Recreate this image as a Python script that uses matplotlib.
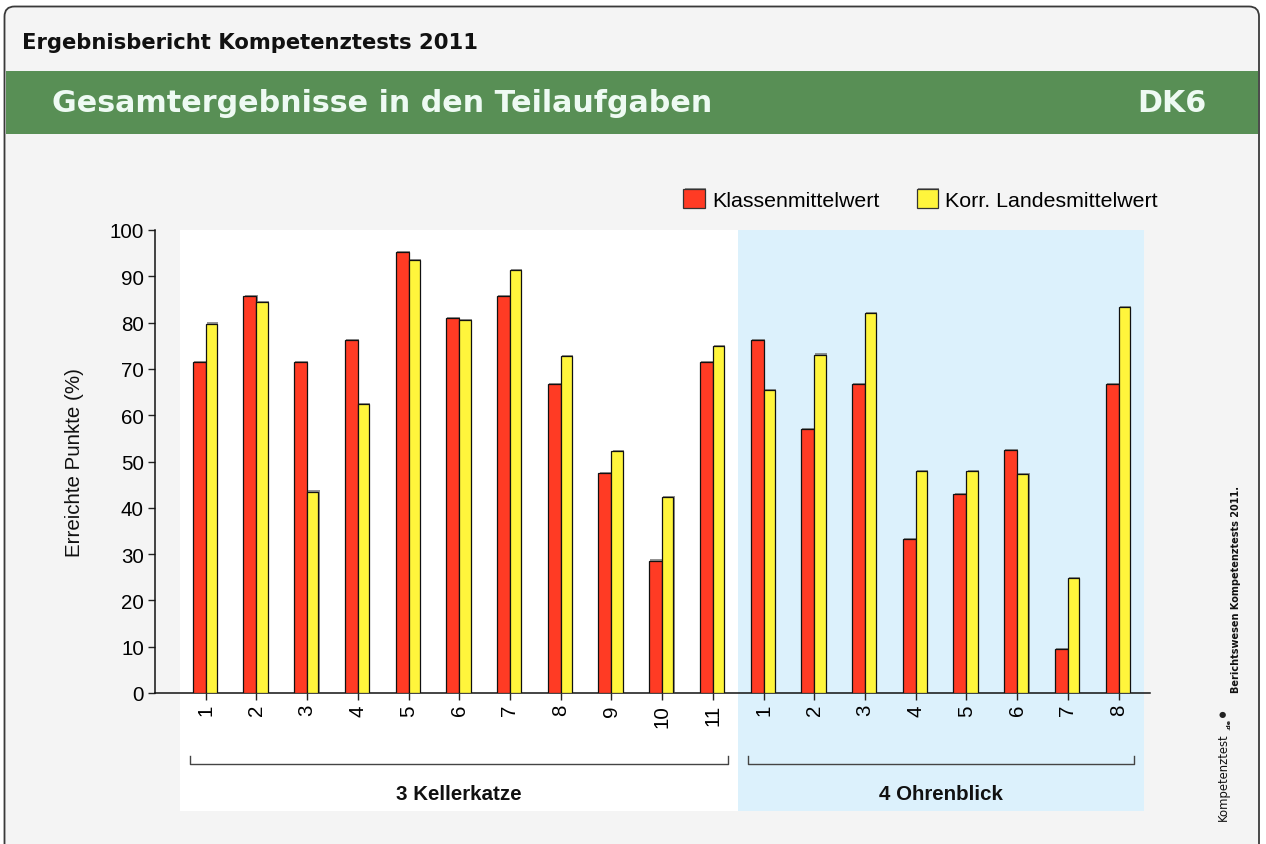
import matplotlib
matplotlib.use("Agg")
import matplotlib.pyplot as plt
import matplotlib.patches as mpatches
import matplotlib.transforms as mtrans
import matplotlib.patheffects as pe
import numpy as np

# ---------------- data ----------------
groups = ["3 Kellerkatze", "4 Ohrenblick"]
tasks_k = ["1", "2", "3", "4", "5", "6", "7", "8", "9", "10", "11"]
tasks_o = ["1", "2", "3", "4", "5", "6", "7", "8"]
klassen_k = [71.4, 85.7, 71.4, 76.2, 95.2, 81.0, 85.7, 66.7, 47.6, 28.6, 71.4]
landes_k = [79.8, 84.5, 43.5, 62.4, 93.6, 80.6, 91.4, 72.8, 52.3, 42.4, 75.0]
klassen_o = [76.2, 57.1, 66.7, 33.3, 42.9, 52.4, 9.5, 66.7]
landes_o = [65.5, 73.1, 82.1, 48.0, 48.0, 47.2, 24.8, 83.3]
series_names = ["Klassenmittelwert", "Korr. Landesmittelwert"]
yticks = [0, 10, 20, 30, 40, 50, 60, 70, 80, 90, 100]

W, H = 1266, 845
fig = plt.figure(figsize=(W / 100, H / 100), dpi=100)
fig.patch.set_facecolor("white")

def fx(x):
    return x / W

def fy(y):
    return 1 - y / H

FS = 14.8

# outer rounded box (pixel coords)
box = mpatches.FancyBboxPatch((4.5, -20), 1254.5, H - 7.5 + 20,
                              boxstyle="round,pad=0,rounding_size=10",
                              transform=mtrans.IdentityTransform(),
                              facecolor="#f4f4f4", edgecolor="#3a3a3a",
                              linewidth=1.3, zorder=-10)
fig.patches.append(box)

# green band
band = mpatches.Rectangle((fx(5.5), fy(135)), fx(1258) - fx(5.5), fy(72) - fy(135),
                          transform=fig.transFigure, facecolor="#588f55",
                          edgecolor="none", zorder=-9)
fig.patches.append(band)

fig.text(fx(22), fy(43), "Ergebnisbericht Kompetenztests 2011", fontsize=15.2,
         fontweight="bold", family="DejaVu Sans", ha="left", va="center", color="#111111")
fig.text(fx(52), fy(104), "Gesamtergebnisse in den Teilaufgaben", fontsize=21.7,
         fontweight="bold", family="DejaVu Sans", ha="left", va="center", color="#eefaf3")
fig.text(fx(1207), fy(104), "DK6", fontsize=21.7, fontweight="bold", family="DejaVu Sans",
         ha="right", va="center", color="#eefaf3")

# ---------------- axes ----------------
ax = fig.add_axes([fx(155), fy(694), fx(1150) - fx(155), fy(231) - fy(694)])
ax.set_facecolor("none")

n_k, n_o = len(tasks_k), len(tasks_o)
x = np.arange(n_k + n_o)
klassen = klassen_k + klassen_o
landes = landes_k + landes_o
labels = tasks_k + tasks_o

ax.set_xlim(-1.0, 18.62)
ax.set_ylim(0, 100)

# background regions (extend below the axes)
btr = mtrans.blended_transform_factory(ax.transData, fig.transFigure)
fig.patches.append(mpatches.Rectangle((-0.5, fy(812)), n_k, fy(231) - fy(812),
                                      transform=btr, facecolor="white",
                                      edgecolor="none", zorder=-5))
fig.patches.append(mpatches.Rectangle((n_k - 0.5, fy(812)), n_o, fy(231) - fy(812),
                                      transform=btr, facecolor="#dcf1fc",
                                      edgecolor="none", zorder=-5))

shadow = [pe.SimplePatchShadow(offset=(0.8, 0.8), shadow_rgbFace="#666666", alpha=0.7),
          pe.Normal()]
w_red, w_yel = 0.256, 0.223
ax.bar(x - w_red / 2, klassen, width=w_red, color="#ff3b24", edgecolor="#111111",
       linewidth=0.9, label=series_names[0], zorder=3, path_effects=shadow)
ax.bar(x + w_yel / 2, landes, width=w_yel, color="#fff53c", edgecolor="#111111",
       linewidth=0.9, label=series_names[1], zorder=3, path_effects=shadow)

ax.set_xticks(x)
ax.set_xticklabels(labels, rotation=90, family="Liberation Sans", fontsize=FS)
ax.set_yticks(yticks)
ax.set_yticklabels([str(t) for t in yticks], family="Liberation Sans", fontsize=FS)
ax.tick_params(axis="both", direction="out", length=5, width=1, color="#222222", pad=3)
for s in ["top", "right"]:
    ax.spines[s].set_visible(False)
for s in ["left", "bottom"]:
    ax.spines[s].set_linewidth(1.1)
    ax.spines[s].set_color("#111111")

fig.text(fx(75), fy(463), "Erreichte Punkte (%)", rotation=90, fontsize=FS,
         family="Liberation Sans", ha="center", va="center", color="#111111")

# group brackets and labels
y_br, y_br_top = fy(765), fy(757)
starts = [0, n_k]
ends = [n_k - 1, n_k + n_o - 1]
for g, s, e in zip(groups, starts, ends):
    x0, x1 = s - 0.3, e + 0.3
    fig.add_artist(plt.Line2D([x0, x0, x1, x1], [y_br_top, y_br, y_br, y_br_top],
                              transform=btr, color="#444444", linewidth=1.0))
    fig.text((x0 + x1) / 2, fy(795), g, transform=btr, ha="center", va="center",
             fontsize=FS, fontweight="bold", family="Liberation Sans", color="#111111")

# legend
leg = ax.legend(loc="lower right", bbox_to_anchor=(fx(1158), fy(211)),
                bbox_transform=fig.transFigure, ncol=2, frameon=False,
                prop={"family": "Liberation Sans", "size": 15.4},
                handlelength=1.02, handleheight=1.02, handletextpad=0.33,
                columnspacing=1.72, borderpad=0, borderaxespad=0)
for h in leg.legend_handles:
    h.set_edgecolor("#333333")

# right side texts
fig.text(fx(1236), fy(693), "Berichtswesen Kompetenztests 2011.", rotation=90,
         fontsize=7, fontweight="bold", family="DejaVu Sans", ha="center", va="bottom",
         color="#111111")
logo = fig.text(fx(1223), fy(821), "Kompetenztest", rotation=90, fontsize=12,
                family="DejaVu Sans", ha="center", va="bottom", color="#111111")
fig.canvas.draw()
ext = logo.get_window_extent(renderer=fig.canvas.get_renderer())
target_len = 87.0
logo.set_fontsize(12 * target_len / max(ext.height, 1.0))
fig.text(fx(1229), fy(730), ".de", rotation=90, fontsize=4.5, fontweight="bold",
         family="DejaVu Sans", ha="center", va="bottom", color="#111111")
fig.text(fx(1222), fy(714), "\u25CF", rotation=0, fontsize=6, family="DejaVu Sans",
         ha="center", va="center", color="#222222")

fig.savefig("out.png", dpi=100)
